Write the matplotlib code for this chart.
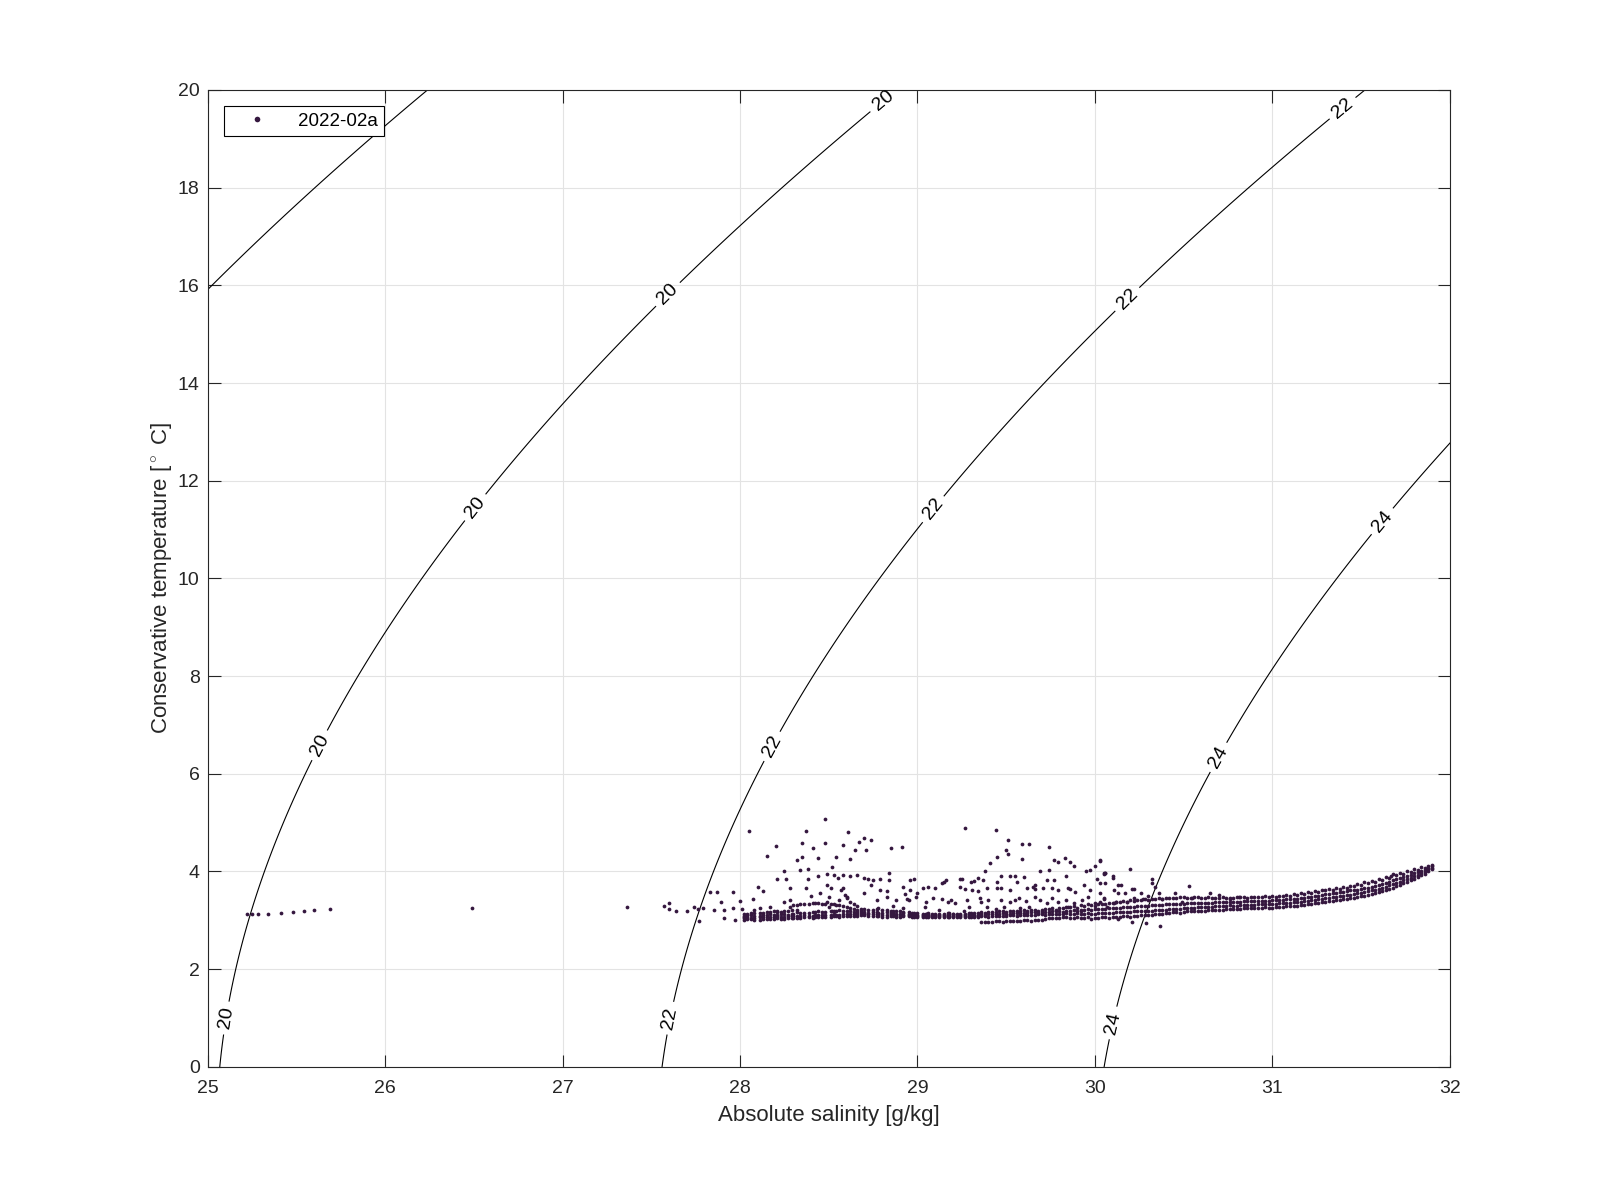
import numpy as np
import matplotlib.pyplot as plt

plt.rcParams['font.family'] = ['Liberation Sans', 'DejaVu Sans']
plt.rcParams['mathtext.fontset'] = 'custom'
plt.rcParams['mathtext.rm'] = 'Liberation Sans'

# Profile 2022-02a, (absolute salinity, conservative temperature)
# isolated low-salinity points
left_pts = [(25.22, 3.13), (25.25, 3.13), (25.28, 3.13), (25.34, 3.13), (25.41, 3.15),
            (25.48, 3.17), (25.54, 3.19), (25.60, 3.21), (25.69, 3.24), (26.49, 3.25),
            (27.36, 3.27), (27.60, 3.35), (27.60, 3.23), (27.64, 3.20), (27.70, 3.20),
            (27.74, 3.28), (27.76, 3.23), (27.77, 2.99), (27.57, 3.30)]

# scattered points above the main band, 27.8 - 29.0 g/kg
cloud_a = [(28.48, 5.07), (28.05, 4.82), (28.37, 4.82), (28.61, 4.80), (28.70, 4.68),
           (28.67, 4.61), (28.74, 4.65), (28.20, 4.53), (28.35, 4.58), (28.48, 4.58),
           (28.58, 4.54), (28.85, 4.48), (28.91, 4.51), (28.15, 4.32), (28.41, 4.48),
           (28.65, 4.44), (28.71, 4.44), (28.44, 4.28), (28.62, 4.26), (28.54, 4.30),
           (28.32, 4.24), (28.35, 4.30), (28.52, 4.10), (28.34, 4.03), (28.38, 4.06),
           (28.25, 4.00), (28.21, 3.84), (28.26, 3.85), (28.38, 3.84), (28.44, 3.90),
           (28.49, 3.95), (28.53, 3.92), (28.55, 3.87), (28.58, 3.93), (28.62, 3.90),
           (28.66, 3.92), (28.70, 3.86), (28.72, 3.84), (28.75, 3.83), (28.79, 3.84),
           (28.84, 3.96), (28.84, 3.83), (28.96, 3.83), (28.10, 3.69), (28.13, 3.60),
           (28.28, 3.67), (28.37, 3.66), (28.49, 3.72), (28.51, 3.66), (28.58, 3.66),
           (28.74, 3.72), (28.79, 3.62), (28.83, 3.59), (28.92, 3.69), (28.96, 3.62),
           (27.83, 3.57), (27.87, 3.57), (27.96, 3.58), (27.89, 3.38), (28.00, 3.39),
           (28.07, 3.43), (28.25, 3.38), (28.28, 3.41), (28.50, 3.47), (28.56, 3.41),
           (28.60, 3.47), (28.77, 3.41), (28.83, 3.47), (28.88, 3.41), (28.94, 3.44),
           (28.99, 3.47), (27.79, 3.25), (27.85, 3.21), (27.91, 3.22), (27.96, 3.25),
           (28.01, 3.24), (27.91, 3.04), (27.97, 3.01), (28.02, 3.07), (28.08, 3.22),
           (28.11, 3.25), (28.17, 3.28), (28.21, 3.18), (28.28, 3.27), (28.32, 3.22),
           (28.57, 3.62), (28.59, 3.52), (28.60, 3.45), (28.62, 3.38), (28.64, 3.33),
           (28.66, 3.29), (28.49, 3.38), (28.50, 3.28), (28.52, 3.18), (28.45, 3.55),
           (28.40, 3.50), (28.70, 3.55), (28.86, 3.30), (28.92, 3.25)]

# scattered points above the main band, 28.9 - 30.2 g/kg
cloud_b = [(29.27, 4.88), (29.44, 4.84), (29.51, 4.65), (29.59, 4.56), (29.63, 4.57),
           (29.50, 4.44), (29.51, 4.35), (29.59, 4.25), (29.74, 4.50), (29.77, 4.24),
           (29.79, 4.20), (29.83, 4.27), (29.86, 4.20), (29.88, 4.11), (30.03, 4.22),
           (30.00, 4.11), (29.41, 4.18), (29.45, 4.29), (29.38, 4.00), (29.74, 4.03),
           (29.69, 4.00), (29.95, 4.00), (29.97, 4.03), (30.05, 3.96), (30.06, 3.97),
           (28.98, 3.85), (29.03, 3.66), (29.06, 3.69), (29.10, 3.67), (29.15, 3.79),
           (29.16, 3.83), (29.14, 3.76), (29.24, 3.85), (29.25, 3.84), (29.30, 3.79),
           (29.32, 3.80), (29.34, 3.87), (29.37, 3.83), (29.24, 3.69), (29.27, 3.64),
           (29.31, 3.62), (29.45, 3.79), (29.47, 3.90), (29.52, 3.90), (29.55, 3.90),
           (29.56, 3.79), (29.60, 3.89), (29.45, 3.66), (29.47, 3.67), (29.39, 3.67),
           (29.34, 3.59), (29.52, 3.62), (29.62, 3.67), (29.65, 3.69), (29.66, 3.64),
           (29.66, 3.72), (29.71, 3.67), (29.76, 3.66), (29.79, 3.62), (29.84, 3.90),
           (29.85, 3.67), (29.86, 3.64), (29.89, 3.57), (29.77, 3.83), (29.73, 3.83),
           (29.94, 3.72), (29.97, 3.62), (30.01, 3.84), (30.03, 3.77), (30.10, 3.87),
           (30.11, 3.62), (30.13, 3.72), (28.93, 3.54), (28.95, 3.41), (29.00, 3.55),
           (29.05, 3.38), (29.09, 3.45), (29.04, 3.28), (29.14, 3.43), (29.17, 3.38),
           (29.19, 3.41), (29.21, 3.35), (29.28, 3.41), (29.29, 3.28), (29.35, 3.45),
           (29.36, 3.38), (29.40, 3.41), (29.39, 3.27), (29.47, 3.41), (29.49, 3.28),
           (29.52, 3.38), (29.55, 3.41), (29.57, 3.45), (29.61, 3.40), (29.63, 3.28),
           (29.66, 3.47), (29.69, 3.41), (29.73, 3.35), (29.76, 3.45), (29.79, 3.38),
           (29.84, 3.41), (29.85, 3.28), (29.88, 3.35), (29.93, 3.41), (29.96, 3.47),
           (30.00, 3.30), (30.03, 3.38), (30.07, 3.28), (30.11, 3.35), (29.12, 3.22),
           (29.26, 3.20), (29.44, 3.24), (29.58, 3.25), (29.92, 3.18)]

# scattered points near the 24 isopycnal crossing, 30.0 - 31.7 g/kg
cloud_c = [(30.03, 4.24), (30.05, 3.95), (30.06, 3.96), (30.10, 3.90), (30.20, 4.05),
           (30.06, 3.77), (30.15, 3.73), (30.13, 3.56), (30.17, 3.56), (30.21, 3.64),
           (30.22, 3.65), (30.26, 3.56), (30.32, 3.84), (30.32, 3.77), (30.34, 3.69),
           (30.36, 3.56), (30.38, 3.43), (30.30, 3.49), (30.27, 3.43), (30.22, 3.45),
           (30.18, 3.38), (30.12, 3.38), (30.05, 3.43), (30.45, 3.56), (30.53, 3.70),
           (30.49, 3.38), (30.55, 3.45), (30.65, 3.56), (30.70, 3.52), (30.76, 3.43),
           (30.81, 3.47), (30.03, 3.56), (30.05, 3.45), (30.37, 2.89), (30.29, 2.94),
           (30.13, 3.03), (30.21, 2.96), (31.67, 3.90)]

# dense main band: salinity and four temperature rows spanning its thickness
band_S = [28.02, 28.06, 28.11, 28.15, 28.19, 28.23, 28.27, 28.30, 28.34, 28.39,
          28.42, 28.46, 28.51, 28.54, 28.58, 28.62, 28.66, 28.70, 28.75, 28.78,
          28.83, 28.86, 28.90, 28.95, 28.98, 29.03, 29.06, 29.10, 29.15, 29.18,
          29.22, 29.27, 29.30, 29.34, 29.38, 29.42, 29.46, 29.50, 29.54, 29.58,
          29.62, 29.66, 29.70, 29.74, 29.78, 29.82, 29.86, 29.90, 29.94, 29.98,
          30.02, 30.06, 30.10, 30.14, 30.18, 30.22, 30.26, 30.30, 30.34, 30.38,
          30.42, 30.46, 30.50, 30.54, 30.58, 30.62, 30.66, 30.70, 30.74, 30.78,
          30.82, 30.86, 30.90, 30.94, 30.98, 31.02, 31.06, 31.10, 31.14, 31.18,
          31.22, 31.26, 31.30, 31.34, 31.38, 31.42, 31.46, 31.50, 31.54, 31.58,
          31.62, 31.66, 31.70, 31.74, 31.78, 31.82, 31.86, 31.90]
band_T1 = [3.00, 3.02, 3.01, 3.03, 3.02, 3.03, 3.04, 3.05, 3.05, 3.06,
           3.06, 3.07, 3.07, 3.08, 3.08, 3.09, 3.09, 3.10, 3.08, 3.09,
           3.07, 3.08, 3.07, 3.08, 3.07, 3.07, 3.07, 3.06, 3.07, 3.06,
           3.07, 3.06, 3.07, 3.06, 2.97, 2.97, 2.98, 2.98, 2.99, 2.99,
           3.00, 3.00, 3.01, 3.04, 3.05, 3.06, 3.05, 3.06, 3.04, 3.03,
           3.05, 3.06, 3.07, 3.06, 3.08, 3.09, 3.10, 3.10, 3.12, 3.13,
           3.15, 3.16, 3.17, 3.18, 3.19, 3.20, 3.21, 3.22, 3.23, 3.24,
           3.24, 3.25, 3.25, 3.26, 3.26, 3.27, 3.28, 3.29, 3.30, 3.32,
           3.34, 3.36, 3.38, 3.40, 3.42, 3.44, 3.46, 3.49, 3.52, 3.56,
           3.60, 3.65, 3.70, 3.76, 3.82, 3.88, 3.95, 4.05]
band_T2 = [3.04, 3.05, 3.06, 3.07, 3.06, 3.07, 3.08, 3.08, 3.09, 3.09,
           3.10, 3.10, 3.11, 3.11, 3.12, 3.12, 3.13, 3.13, 3.12, 3.12,
           3.11, 3.10, 3.09, 3.10, 3.09, 3.08, 3.09, 3.08, 3.09, 3.08,
           3.09, 3.08, 3.09, 3.09, 3.08, 3.08, 3.09, 3.09, 3.10, 3.10,
           3.11, 3.11, 3.12, 3.12, 3.13, 3.12, 3.13, 3.14, 3.12, 3.13,
           3.14, 3.15, 3.15, 3.16, 3.17, 3.18, 3.18, 3.19, 3.21, 3.22,
           3.23, 3.24, 3.25, 3.26, 3.27, 3.28, 3.28, 3.29, 3.30, 3.30,
           3.31, 3.32, 3.32, 3.33, 3.33, 3.34, 3.35, 3.36, 3.37, 3.39,
           3.41, 3.43, 3.45, 3.47, 3.49, 3.51, 3.53, 3.56, 3.59, 3.63,
           3.67, 3.72, 3.77, 3.82, 3.87, 3.93, 3.99, 4.08]
band_T3 = [3.08, 3.10, 3.09, 3.11, 3.10, 3.12, 3.11, 3.13, 3.15, 3.14,
           3.16, 3.17, 3.18, 3.20, 3.19, 3.18, 3.17, 3.16, 3.17, 3.15,
           3.16, 3.14, 3.13, 3.12, 3.11, 3.10, 3.10, 3.10, 3.11, 3.10,
           3.11, 3.10, 3.12, 3.11, 3.11, 3.12, 3.13, 3.12, 3.14, 3.15,
           3.14, 3.16, 3.17, 3.16, 3.18, 3.17, 3.19, 3.20, 3.21, 3.22,
           3.23, 3.24, 3.25, 3.26, 3.27, 3.28, 3.29, 3.30, 3.31, 3.32,
           3.33, 3.33, 3.34, 3.35, 3.35, 3.36, 3.36, 3.37, 3.37, 3.38,
           3.38, 3.39, 3.39, 3.40, 3.40, 3.41, 3.42, 3.43, 3.44, 3.46,
           3.48, 3.50, 3.53, 3.55, 3.57, 3.59, 3.62, 3.64, 3.67, 3.71,
           3.75, 3.79, 3.84, 3.88, 3.93, 3.98, 4.03, 4.11]
band_T4 = [3.12, 3.14, 3.15, 3.16, 3.18, 3.17, 3.20, 3.31, 3.33, 3.34,
           3.35, 3.34, 3.33, 3.32, 3.30, 3.26, 3.22, 3.24, 3.21, 3.25,
           3.22, 3.20, 3.18, 3.16, 3.15, 3.13, 3.14, 3.12, 3.13, 3.14,
           3.12, 3.13, 3.15, 3.14, 3.15, 3.16, 3.18, 3.17, 3.18, 3.20,
           3.19, 3.21, 3.22, 3.24, 3.22, 3.25, 3.27, 3.26, 3.30, 3.32,
           3.34, 3.33, 3.35, 3.37, 3.38, 3.40, 3.41, 3.42, 3.43, 3.44,
           3.45, 3.46, 3.47, 3.46, 3.47, 3.45, 3.46, 3.45, 3.46, 3.46,
           3.47, 3.46, 3.47, 3.47, 3.48, 3.48, 3.49, 3.50, 3.52, 3.54,
           3.56, 3.58, 3.61, 3.63, 3.65, 3.67, 3.70, 3.73, 3.76, 3.79,
           3.83, 3.87, 3.92, 3.95, 3.99, 4.03, 4.08, 4.14]

# second pass over the band, between the salinities above
band2_S = [28.04, 28.08, 28.13, 28.17, 28.21, 28.25, 28.29, 28.32, 28.36, 28.41,
           28.44, 28.48, 28.53, 28.56, 28.60, 28.64, 28.68, 28.72, 28.77, 28.80,
           28.85, 28.88, 28.92, 28.97, 29.00, 29.05, 29.08, 29.12, 29.17, 29.20,
           29.24, 29.29, 29.32, 29.36, 29.40, 29.44, 29.48, 29.52, 29.56, 29.60,
           29.64, 29.68, 29.72, 29.76, 29.80, 29.84, 29.88, 29.92, 29.96, 30.00,
           30.04, 30.08, 30.12, 30.16, 30.20, 30.24, 30.28, 30.32, 30.36, 30.40,
           30.44, 30.48, 30.52, 30.56, 30.60, 30.64, 30.68, 30.72, 30.76, 30.80,
           30.84, 30.88, 30.92, 30.96, 31.00, 31.04, 31.08, 31.12, 31.16, 31.20,
           31.24, 31.28, 31.32, 31.36, 31.40, 31.44, 31.48, 31.52, 31.56, 31.60,
           31.64, 31.68, 31.72, 31.76, 31.80, 31.84, 31.88]
band2_T1 = [3.02, 3.01, 3.03, 3.02, 3.04, 3.03, 3.05, 3.04, 3.06, 3.05,
            3.07, 3.06, 3.08, 3.07, 3.09, 3.08, 3.10, 3.09, 3.08, 3.07,
            3.08, 3.07, 3.08, 3.06, 3.07, 3.06, 3.07, 3.07, 3.06, 3.07,
            3.06, 3.07, 3.06, 2.97, 2.96, 2.98, 2.97, 2.99, 2.98, 3.00,
            2.99, 3.01, 3.02, 3.05, 3.04, 3.06, 3.05, 3.04, 3.06, 3.04,
            3.06, 3.05, 3.07, 3.08, 3.07, 3.09, 3.11, 3.10, 3.13, 3.14,
            3.16, 3.15, 3.18, 3.19, 3.20, 3.21, 3.22, 3.22, 3.24, 3.23,
            3.25, 3.26, 3.25, 3.27, 3.26, 3.28, 3.29, 3.30, 3.31, 3.33,
            3.35, 3.37, 3.39, 3.41, 3.43, 3.45, 3.48, 3.50, 3.54, 3.58,
            3.62, 3.67, 3.73, 3.79, 3.85, 3.92, 4.00]
band2_T2 = [3.06, 3.05, 3.07, 3.06, 3.08, 3.07, 3.09, 3.08, 3.10, 3.09,
            3.11, 3.10, 3.12, 3.11, 3.13, 3.12, 3.14, 3.13, 3.12, 3.11,
            3.12, 3.10, 3.11, 3.09, 3.09, 3.08, 3.09, 3.09, 3.08, 3.09,
            3.08, 3.09, 3.08, 3.09, 3.07, 3.08, 3.09, 3.10, 3.09, 3.11,
            3.10, 3.12, 3.11, 3.13, 3.12, 3.14, 3.13, 3.12, 3.14, 3.13,
            3.14, 3.15, 3.16, 3.17, 3.16, 3.18, 3.19, 3.20, 3.21, 3.22,
            3.24, 3.24, 3.26, 3.26, 3.28, 3.28, 3.29, 3.30, 3.31, 3.30,
            3.32, 3.32, 3.33, 3.33, 3.34, 3.35, 3.36, 3.37, 3.38, 3.40,
            3.42, 3.44, 3.46, 3.48, 3.50, 3.52, 3.55, 3.57, 3.61, 3.65,
            3.69, 3.74, 3.79, 3.84, 3.90, 3.96, 4.04]
band2_T3 = [3.10, 3.09, 3.11, 3.12, 3.11, 3.13, 3.12, 3.16, 3.15, 3.17,
            3.18, 3.17, 3.19, 3.21, 3.18, 3.17, 3.18, 3.15, 3.16, 3.14,
            3.15, 3.13, 3.14, 3.12, 3.11, 3.12, 3.11, 3.10, 3.11, 3.12,
            3.11, 3.12, 3.11, 3.12, 3.13, 3.12, 3.14, 3.13, 3.15, 3.14,
            3.16, 3.15, 3.17, 3.19, 3.18, 3.20, 3.21, 3.22, 3.23, 3.24,
            3.24, 3.25, 3.26, 3.27, 3.28, 3.29, 3.30, 3.31, 3.32, 3.33,
            3.34, 3.34, 3.35, 3.35, 3.36, 3.36, 3.37, 3.37, 3.38, 3.38,
            3.39, 3.39, 3.40, 3.40, 3.41, 3.42, 3.43, 3.44, 3.45, 3.47,
            3.49, 3.51, 3.54, 3.56, 3.58, 3.61, 3.63, 3.66, 3.69, 3.73,
            3.77, 3.82, 3.86, 3.91, 3.96, 4.01, 4.07]
band2_T4 = [3.13, 3.15, 3.14, 3.17, 3.16, 3.19, 3.22, 3.32, 3.34, 3.35,
            3.36, 3.33, 3.34, 3.31, 3.28, 3.24, 3.23, 3.22, 3.23, 3.21,
            3.20, 3.19, 3.17, 3.15, 3.14, 3.13, 3.12, 3.13, 3.14, 3.12,
            3.13, 3.14, 3.15, 3.16, 3.17, 3.17, 3.19, 3.18, 3.20, 3.21,
            3.22, 3.20, 3.23, 3.25, 3.26, 3.28, 3.29, 3.31, 3.33, 3.35,
            3.33, 3.36, 3.38, 3.39, 3.41, 3.42, 3.43, 3.44, 3.45, 3.46,
            3.46, 3.47, 3.46, 3.47, 3.46, 3.47, 3.45, 3.47, 3.46, 3.47,
            3.48, 3.47, 3.48, 3.49, 3.49, 3.50, 3.51, 3.53, 3.55, 3.57,
            3.59, 3.62, 3.64, 3.66, 3.69, 3.71, 3.75, 3.78, 3.81, 3.85,
            3.89, 3.94, 3.97, 4.01, 4.05, 4.10, 4.12]

plain_levels = [18]
labelled_levels = [20, 22, 24]
label_pos = [(25.10, 1.0), (25.62, 6.6), (26.49, 11.5), (27.57, 15.9), (28.79, 19.85),
             (27.60, 1.0), (28.16, 6.6), (29.06, 11.5), (30.16, 15.8), (31.38, 19.7),
             (30.10, 0.9), (30.69, 6.35), (31.61, 11.2)]


def sigma0(SA, CT):
    # UNESCO 1980 equation of state at the surface
    S = SA * 35.0 / 35.16504
    T = CT
    rho_w = (999.842594 + 6.793952e-2 * T - 9.095290e-3 * T**2 + 1.001685e-4 * T**3
             - 1.120083e-6 * T**4 + 6.536332e-9 * T**5)
    A = 8.24493e-1 - 4.0899e-3 * T + 7.6438e-5 * T**2 - 8.2467e-7 * T**3 + 5.3875e-9 * T**4
    B = -5.72466e-3 + 1.0227e-4 * T - 1.6546e-6 * T**2
    return rho_w + A * S + B * S**1.5 + 4.8314e-4 * S**2 - 1000.0


pts = np.array(left_pts + cloud_a + cloud_b + cloud_c)
b1 = np.array(band_S)
b2 = np.array(band2_S)
sal = np.concatenate([pts[:, 0], b1, b1, b1, b1, b2, b2, b2, b2])
temp = np.concatenate([pts[:, 1], band_T1, band_T2, band_T3, band_T4,
                       band2_T1, band2_T2, band2_T3, band2_T4])

sg, tg = np.meshgrid(np.linspace(24.8, 32.2, 400), np.linspace(-0.5, 20.5, 400))
dens = sigma0(sg, tg)

fig = plt.figure(figsize=(16, 12), dpi=100)
ax = fig.add_axes([0.13, 0.111, 0.776, 0.814])

ax.contour(sg, tg, dens, levels=plain_levels, colors='black', linewidths=0.8)
cs = ax.contour(sg, tg, dens, levels=labelled_levels, colors='black', linewidths=0.8)
ax.clabel(cs, manual=label_pos, inline=True, fontsize=14, fmt='%d')

ax.plot(sal, temp, linestyle='none', marker='o', markersize=2.7, markeredgewidth=0,
        color='#35173f', label='2022-02a')

ax.set_xlim(25, 32)
ax.set_ylim(0, 20)
ax.set_xticks(np.arange(25, 33, 1))
ax.set_yticks(np.arange(0, 21, 2))
ax.grid(True, color='#e3e3e3', linewidth=0.8)
ax.set_axisbelow(True)
ax.tick_params(direction='in', length=9, top=True, right=True, labelsize=14,
               colors='#262626', width=0.8)
ax.tick_params(axis='x', pad=9.5)
ax.tick_params(axis='y', pad=6)
for sp in ax.spines.values():
    sp.set_color('#262626')
    sp.set_linewidth(0.8)

ax.set_xlabel('Absolute salinity [g/kg]', fontsize=16, color='#262626', labelpad=6)
ax.set_ylabel(r'Conservative temperature [$^\circ$ C]', fontsize=16, color='#262626',
              labelpad=3)

leg = ax.legend(loc='upper left', fontsize=13.5, fancybox=False, edgecolor='black',
                framealpha=1, markerscale=1.5, borderaxespad=0.85, handlelength=2.8,
                borderpad=0.35)
leg.get_frame().set_linewidth(0.8)

fig.savefig('out.png', dpi=100)
